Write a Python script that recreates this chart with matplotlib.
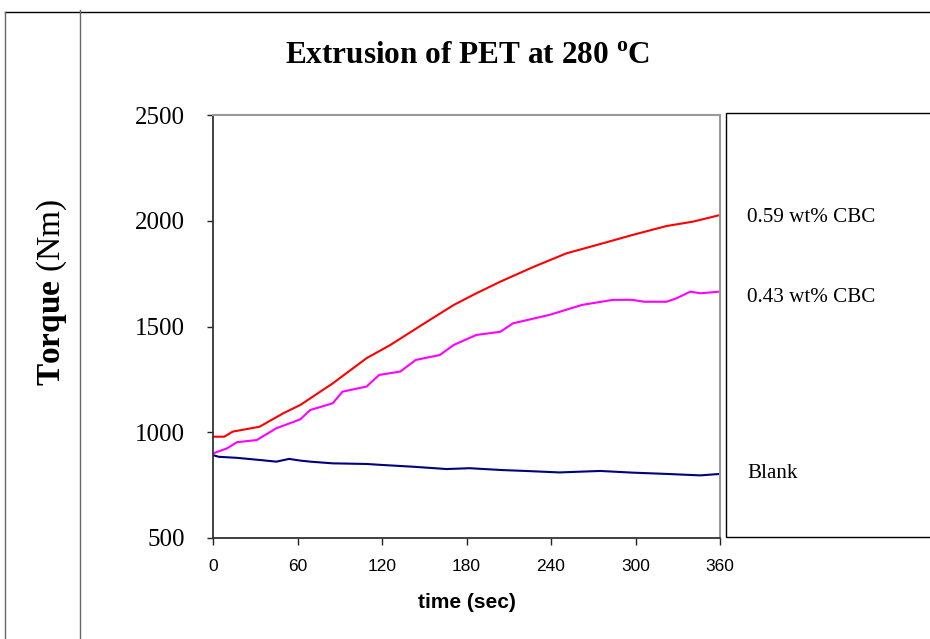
import matplotlib
matplotlib.use('Agg')
import matplotlib.pyplot as plt
from matplotlib.patches import Rectangle
from matplotlib.lines import Line2D

plt.rcParams['mathtext.fontset'] = 'custom'
plt.rcParams['mathtext.rm'] = 'Liberation Serif'
plt.rcParams['mathtext.bf'] = 'Liberation Serif:bold'

# ── Data ─────────────────────────────────────────────────────────────────────
t_059 = [0, 8, 14, 33, 50, 62, 85, 109, 126, 152, 171, 187, 204, 228, 251, 275, 298, 322, 341, 360]
tq_059 = [979, 979, 1003, 1026, 1090, 1129, 1231, 1350, 1413, 1523, 1602, 1657, 1712, 1783, 1846,
          1890, 1933, 1975, 1996, 2027]

t_043 = [0, 10, 17, 31, 45, 62, 69, 85, 92, 109, 118, 133, 144, 161, 171, 187, 204, 213, 239,
         262, 284, 298, 306, 322, 329, 339, 346, 360]
tq_043 = [900, 924, 953, 963, 1019, 1061, 1105, 1137, 1192, 1216, 1271, 1287, 1342, 1365, 1413,
          1460, 1475, 1515, 1555, 1602, 1626, 1626, 1617, 1617, 1633, 1665, 1657, 1665]

t_blank = [0, 4, 17, 33, 45, 54, 62, 69, 85, 109, 121, 142, 166, 182, 206, 222, 246, 275, 298,
           322, 346, 360]
tq_blank = [892, 884, 879, 869, 861, 874, 866, 861, 853, 850, 845, 837, 826, 830, 821, 817, 810,
            817, 809, 803, 796, 803]

series_labels = ['0.59 wt% CBC', '0.43 wt% CBC', 'Blank']
series_colors = ['#ff0000', '#ff00ff', '#000080']

x_ticks = [0, 60, 120, 180, 240, 300, 360]
y_ticks = [500, 1000, 1500, 2000, 2500]

# ── Figure ───────────────────────────────────────────────────────────────────
W, H = 930, 639
fig = plt.figure(figsize=(W / 100, H / 100), dpi=100)
fig.patch.set_facecolor('white')

def fx(px):
    return px / W

def fy(py):
    return 1 - py / H

ax = fig.add_axes([fx(213), fy(538), fx(720) - fx(213), fy(115) - fy(538)])

for t, v, col in zip([t_059, t_043, t_blank], [tq_059, tq_043, tq_blank], series_colors):
    ax.plot(t, v, color=col, lw=1.5, solid_joinstyle='miter')

ax.set_xlim(0, 360)
ax.set_ylim(500, 2500)
ax.set_xticks(x_ticks)
ax.set_yticks(y_ticks)
ax.set_xticklabels([str(v) for v in x_ticks], family='Liberation Sans', fontsize=12.5)
ax.set_yticklabels([str(v) for v in y_ticks], family='Liberation Serif', fontsize=18)
ax.tick_params(axis='x', direction='out', length=5, width=1, color='#222222', pad=10)
ax.tick_params(axis='y', direction='out', length=4, width=1, color='#222222', pad=16)

ax.spines['left'].set_color('#333333')
ax.spines['bottom'].set_color('#333333')
ax.spines['left'].set_linewidth(1.3)
ax.spines['bottom'].set_linewidth(1.3)
ax.spines['top'].set_color('#999999')
ax.spines['right'].set_color('#999999')
ax.spines['top'].set_linewidth(1.5)
ax.spines['right'].set_linewidth(1.5)

# Axis labels / title
fig.text(fx(467), fy(57), r'Extrusion of PET at 280 $^{\mathbf{o}}$C', ha='center', va='center',
         family='Liberation Serif', fontweight='bold', fontsize=22.5)
fig.text(fx(467), fy(603), 'time (sec)', ha='center', va='center',
         family='Liberation Sans', fontweight='bold', fontsize=15)
fig.text(fx(52), fy(293), r'$\mathbf{Torque}$ (Nm)', ha='center', va='center', rotation=90,
         family='Liberation Serif', fontsize=24)

# Legend box and labels
fig.add_artist(Rectangle((fx(726), fy(537)), fx(940) - fx(726), fy(113) - fy(537),
                         transform=fig.transFigure, fill=False, edgecolor='black', lw=1.0,
                         clip_on=False))
for lbl, py in zip(series_labels, [217, 297, 473]):
    fig.text(fx(747), fy(py), lbl, ha='left', va='center', family='Liberation Serif', fontsize=15.2)

# Outer frame lines
fig.add_artist(Line2D([fx(5), fx(930)], [fy(12), fy(12)], transform=fig.transFigure,
                      color='black', lw=1.0))
fig.add_artist(Line2D([fx(5), fx(5)], [fy(12), fy(639)], transform=fig.transFigure,
                      color='#666666', lw=1.0))
fig.add_artist(Line2D([fx(80), fx(80)], [fy(10), fy(639)], transform=fig.transFigure,
                      color='#666666', lw=1.0))

fig.savefig('out.png', dpi=100, facecolor='white')
